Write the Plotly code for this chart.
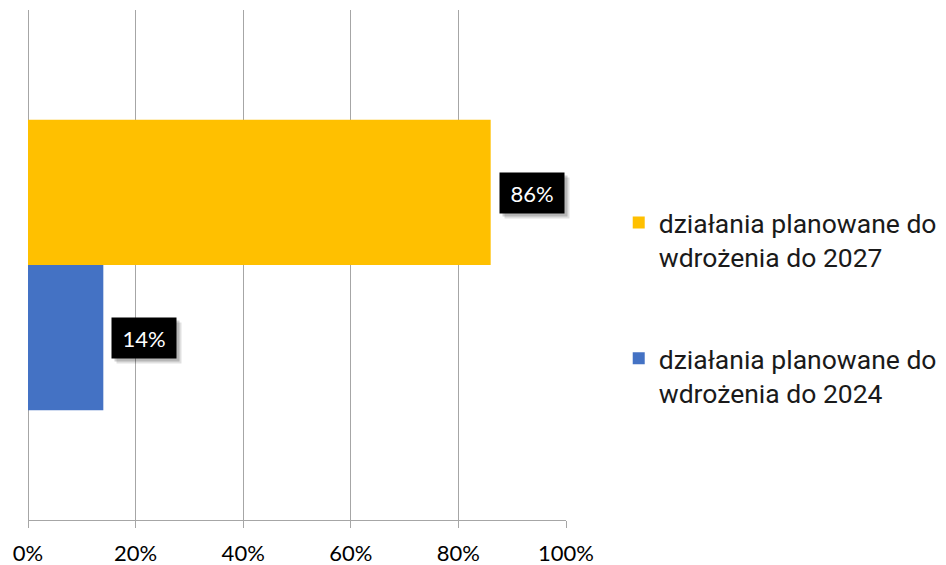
import plotly.graph_objects as go

CATEGORY = ["A"]
SERIES = ["działania planowane do<br>wdrożenia do 2024", "działania planowane do<br>wdrożenia do 2027"]
VALUES = [14, 86]
COLORS = ["#4472C4", "#FFC000"]
LEGEND_RANK = [2, 1]
TICKS = [0, 20, 40, 60, 80, 100]
TICK_TEXT = ["0%", "20%", "40%", "60%", "80%", "100%"]

GRID = "#a6a6a6"

fig = go.Figure()
for i, (name, val, col) in enumerate(zip(SERIES, VALUES, COLORS)):
    fig.add_trace(go.Bar(
        x=[val], y=CATEGORY, name=name, orientation="h",
        marker_color=col, marker_line_width=0,
        legendgroup=str(i), legendrank=LEGEND_RANK[i], hoverinfo="skip",
    ))

# data labels: black box with a soft shadow (shadow boxes carry no text)
bar_half = 72.5
for i, val in enumerate(VALUES):
    ys = -bar_half if i == 0 else bar_half
    for dx, dy, bg, txt in [(5, -5, "rgba(0,0,0,0.12)", "&nbsp;"),
                            (3, -3, "rgba(0,0,0,0.18)", "&nbsp;"),
                            (0, 0, "black", f"{val}%")]:
        fig.add_annotation(
            x=val, y=CATEGORY[0], text=txt, showarrow=False,
            xanchor="left", yanchor="middle", xshift=8 + dx, yshift=ys + dy,
            width=50, height=26,
            bgcolor=bg, borderpad=7, font=dict(family="Lato", size=22, color="white"),
        )

# page body has an 8px margin, so margins are trimmed to land the plot in place
fig.update_layout(
    width=946, height=557,
    margin=dict(l=20, r=388, t=2, b=45, autoexpand=False),
    plot_bgcolor="white", paper_bgcolor="white",
    barmode="group", bargap=0.43,
    showlegend=True,
    legend=dict(
        x=1.098, y=0.63, xanchor="left", yanchor="top",
        tracegroupgap=64, valign="top",
        font=dict(family="Roboto", size=26.5, color="#1a1a1a"),
        itemwidth=30,
    ),
)
fig.update_xaxes(
    range=[0, 100], tickvals=TICKS, ticktext=TICK_TEXT,
    showgrid=True, gridcolor=GRID, gridwidth=1.3,
    zeroline=True, zerolinecolor=GRID, zerolinewidth=1.3,
    showline=True, linecolor=GRID, linewidth=1.3,
    ticks="outside", ticklen=7, tickcolor=GRID, tickwidth=1.3,
    ticklabelstandoff=6, automargin=False,
    tickfont=dict(family="Lato", size=22, color="black"),
)
fig.update_yaxes(showticklabels=False, showgrid=False, zeroline=False, automargin=False)

fig.write_html("out.html")
